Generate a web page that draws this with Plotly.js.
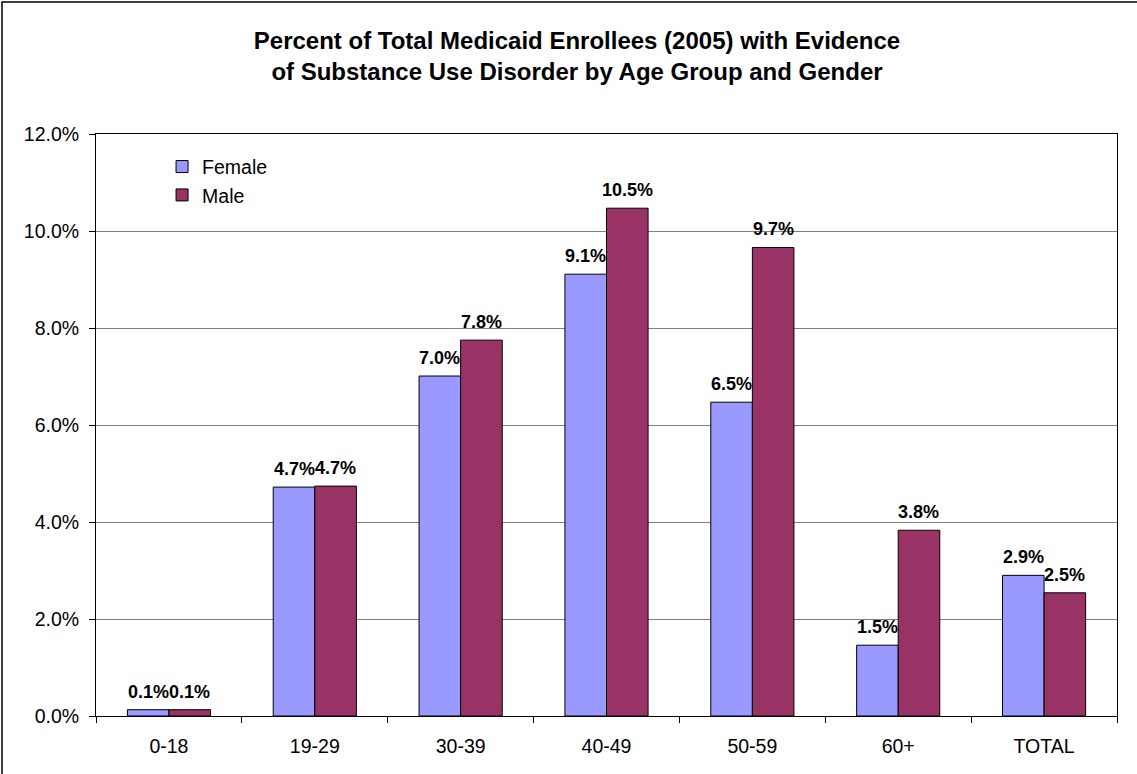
<!DOCTYPE html>
<html>
<head>
<meta charset="utf-8">
<script src="https://cdn.plot.ly/plotly-3.0.1.min.js"></script>
<style>
html,body{margin:0;padding:0;background:#fff;}
#chart{width:1137px;height:774px;}
</style>
</head>
<body>
<div id="chart"></div>
<script>
const categories = ["0-18", "19-29", "30-39", "40-49", "50-59", "60+", "TOTAL"];
const female = [0.13, 4.72, 7.01, 9.11, 6.47, 1.46, 2.90];
const male = [0.13, 4.74, 7.75, 10.47, 9.66, 3.83, 2.54];
const seriesNames = ["Female", "Male"];
const seriesColors = ["#9999FF", "#993366"];
const yTicks = [0, 2, 4, 6, 8, 10, 12];

const W = 1137, H = 774;
const margin = {l: 96, r: 20, t: 134, b: 58};
const plotW = W - margin.l - margin.r;
const plotH = H - margin.t - margin.b;
const bargap = 0.43;
const barW = plotW / categories.length * (1 - bargap) / 2;

const font = "Arial, 'Liberation Sans', sans-serif";

const traces = [female, male].map((vals, k) => ({
  type: "bar",
  name: seriesNames[k],
  x: categories,
  y: vals,
  marker: {color: seriesColors[k], line: {color: "#000", width: 1}},
  hoverinfo: "x+y+name"
}));

const annotations = [];
[female, male].forEach((vals, k) => {
  vals.forEach((v, i) => {
    annotations.push({
      x: categories[i], y: v, xref: "x", yref: "y",
      text: "<b>" + v.toFixed(1) + "%</b>",
      showarrow: false, yanchor: "bottom", xanchor: "center",
      xshift: (k === 0 ? -1 : 1) * barW / 2, yshift: 6,
      font: {family: font, size: 18, color: "#000"}
    });
  });
});

const shapes = [{
  type: "rect", xref: "paper", yref: "paper",
  x0: (2 - margin.l) / plotW, x1: (1145 - margin.l) / plotW,
  y0: -(790 - (H - margin.b)) / plotH, y1: ((H - margin.b) - 2) / plotH,
  line: {color: "#000", width: 1.5}, fillcolor: "rgba(0,0,0,0)", layer: "below"
}];

const layout = {
  width: W, height: H,
  margin: margin,
  paper_bgcolor: "#fff", plot_bgcolor: "#fff",
  font: {family: font, size: 19.5, color: "#000"},
  title: {
    text: "<b>Percent of Total Medicaid Enrollees (2005) with Evidence<br>of Substance Use Disorder by Age Group and Gender</b>",
    font: {family: font, size: 24, color: "#000"},
    x: 577 / W, xref: "container", xanchor: "center",
    y: 1 - 48.5 / H, yref: "container", yanchor: "middle"
  },
  barmode: "group",
  bargap: bargap, bargroupgap: 0,
  showlegend: true,
  legend: {
    x: 0.0647, y: 0.977, xanchor: "left", yanchor: "top",
    bgcolor: "rgba(0,0,0,0)", font: {family: font, size: 19.5, color: "#000"},
    itemwidth: 30, tracegroupgap: 0
  },
  xaxis: {
    type: "category",
    showline: true, linecolor: "#000", linewidth: 1, mirror: true,
    ticks: "outside", tickson: "boundaries", ticklen: 6, tickcolor: "#000",
    ticklabelstandoff: 13,
    tickfont: {family: font, size: 19.5, color: "#000"},
    showgrid: false, zeroline: false, fixedrange: true
  },
  yaxis: {
    range: [0, 12], tickvals: yTicks, ticktext: yTicks.map(v => v.toFixed(1) + "%"),
    showline: true, linecolor: "#000", linewidth: 1, mirror: true,
    ticks: "outside", ticklen: 6, tickcolor: "#000",
    ticklabelstandoff: 6,
    tickfont: {family: font, size: 19.5, color: "#000"},
    showgrid: true, gridcolor: "#808080", gridwidth: 1,
    zeroline: false, fixedrange: true
  },
  annotations: annotations,
  shapes: shapes
};

Plotly.newPlot("chart", traces, layout, {displayModeBar: false, staticPlot: true});
</script>
</body>
</html>
